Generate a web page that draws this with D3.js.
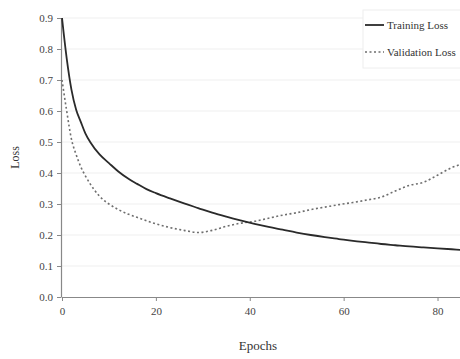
<!DOCTYPE html>
<html>
<head>
<meta charset="utf-8">
<script src="https://cdn.jsdelivr.net/npm/d3@7/dist/d3.min.js"></script>
<style>
  body { margin: 0; background: #fff; }
  text { font-family: "Liberation Serif", "DejaVu Serif", serif; }
</style>
</head>
<body>
<div id="chart"></div>
<script>
// epochs sampled along the curves
const epochs = [0, 1, 2, 3, 4, 5, 6, 8, 10, 12, 14, 16, 18, 20, 23, 26, 29, 32, 35, 38,
  41, 44, 47, 50, 53, 56, 59, 62, 65, 68, 71, 74, 77, 80, 83, 85];

const trainingLoss = [0.90, 0.77, 0.67, 0.605, 0.565, 0.527, 0.50, 0.46, 0.432, 0.405, 0.383,
  0.365, 0.348, 0.335, 0.318, 0.302, 0.287, 0.272, 0.259, 0.247, 0.236, 0.226, 0.217, 0.208,
  0.200, 0.193, 0.187, 0.181, 0.176, 0.171, 0.167, 0.163, 0.160, 0.157, 0.154, 0.152];

const validationLoss = [0.70, 0.60, 0.51, 0.46, 0.42, 0.39, 0.365, 0.325, 0.30, 0.282, 0.268,
  0.257, 0.246, 0.236, 0.224, 0.215, 0.208, 0.215, 0.228, 0.238, 0.244, 0.254, 0.264, 0.272,
  0.282, 0.290, 0.298, 0.305, 0.313, 0.322, 0.342, 0.36, 0.37, 0.393, 0.417, 0.428];

const xTicks = [0, 20, 40, 60, 80];
const yTicks = [0.0, 0.1, 0.2, 0.3, 0.4, 0.5, 0.6, 0.7, 0.8, 0.9];
const seriesNames = ["Training Loss", "Validation Loss"];

const width = 460, height = 359;
const margin = { top: 18, right: 0, bottom: 62, left: 62 };

const svg = d3.select("#chart").append("svg")
  .attr("width", width)
  .attr("height", height);

const x = d3.scaleLinear().domain([0, 85]).range([margin.left, 461]);
const y = d3.scaleLinear().domain([0, 0.9]).range([height - margin.bottom, margin.top]);

// faint horizontal grid
svg.append("g")
  .selectAll("line")
  .data(yTicks.slice(1))
  .enter().append("line")
  .attr("x1", margin.left)
  .attr("x2", width)
  .attr("y1", d => y(d))
  .attr("y2", d => y(d))
  .attr("stroke", "#efefef")
  .attr("stroke-width", 1);

// axes
const xAxis = svg.append("g")
  .attr("transform", `translate(0,${y(0)})`)
  .call(d3.axisBottom(x).tickValues(xTicks).tickSize(4).tickPadding(6).tickSizeOuter(0));

const yAxis = svg.append("g")
  .attr("transform", `translate(${margin.left - 1},0)`)
  .call(d3.axisLeft(y).tickValues(yTicks).tickFormat(d3.format(".1f")).tickSize(4).tickPadding(4).tickSizeOuter(0));

[xAxis, yAxis].forEach(ax => {
  ax.select(".domain").attr("stroke", "#888").attr("stroke-width", 1.2);
  ax.selectAll(".tick line").attr("stroke", "#888");
  ax.selectAll(".tick text")
    .attr("fill", "#444")
    .style("font-family", "'Liberation Serif', serif")
    .style("font-size", "11px");
});

// axis titles
svg.append("text")
  .attr("x", (margin.left + width) / 2 - 3)
  .attr("y", 350)
  .attr("text-anchor", "middle")
  .attr("fill", "#333")
  .style("font-size", "13px")
  .text("Epochs");

svg.append("text")
  .attr("transform", `translate(19,${(margin.top + y(0)) / 2}) rotate(-90)`)
  .attr("text-anchor", "middle")
  .attr("fill", "#333")
  .style("font-size", "12px")
  .text("Loss");

const line = d3.line()
  .x((d, i) => x(epochs[i]))
  .y(d => y(d))
  .curve(d3.curveMonotoneX);

const plotArea = svg.append("g");

plotArea.append("path")
  .datum(validationLoss)
  .attr("d", line)
  .attr("fill", "none")
  .attr("stroke", "#6e6e6e")
  .attr("stroke-width", 1.6)
  .attr("stroke-dasharray", "2,2.5");

plotArea.append("path")
  .datum(trainingLoss)
  .attr("d", line)
  .attr("fill", "none")
  .attr("stroke", "#2a2a2a")
  .attr("stroke-width", 1.8);

// legend
const legend = svg.append("g").attr("transform", "translate(363,10)");
legend.append("rect")
  .attr("width", 110)
  .attr("height", 58)
  .attr("fill", "#fff")
  .attr("stroke", "#eee");

const legendItems = legend.selectAll("g.item")
  .data(seriesNames)
  .enter().append("g")
  .attr("class", "item")
  .attr("transform", (d, i) => `translate(0,${15 + i * 27})`);

legendItems.append("line")
  .attr("x1", 2).attr("x2", 21)
  .attr("y1", 0).attr("y2", 0)
  .attr("stroke", (d, i) => i === 0 ? "#2a2a2a" : "#6e6e6e")
  .attr("stroke-width", (d, i) => i === 0 ? 1.8 : 1.6)
  .attr("stroke-dasharray", (d, i) => i === 0 ? null : "2,2.5");

legendItems.append("text")
  .attr("x", 24)
  .attr("y", 0)
  .attr("dy", "0.35em")
  .attr("fill", "#333")
  .style("font-size", "11px")
  .text(d => d);
</script>
</body>
</html>
